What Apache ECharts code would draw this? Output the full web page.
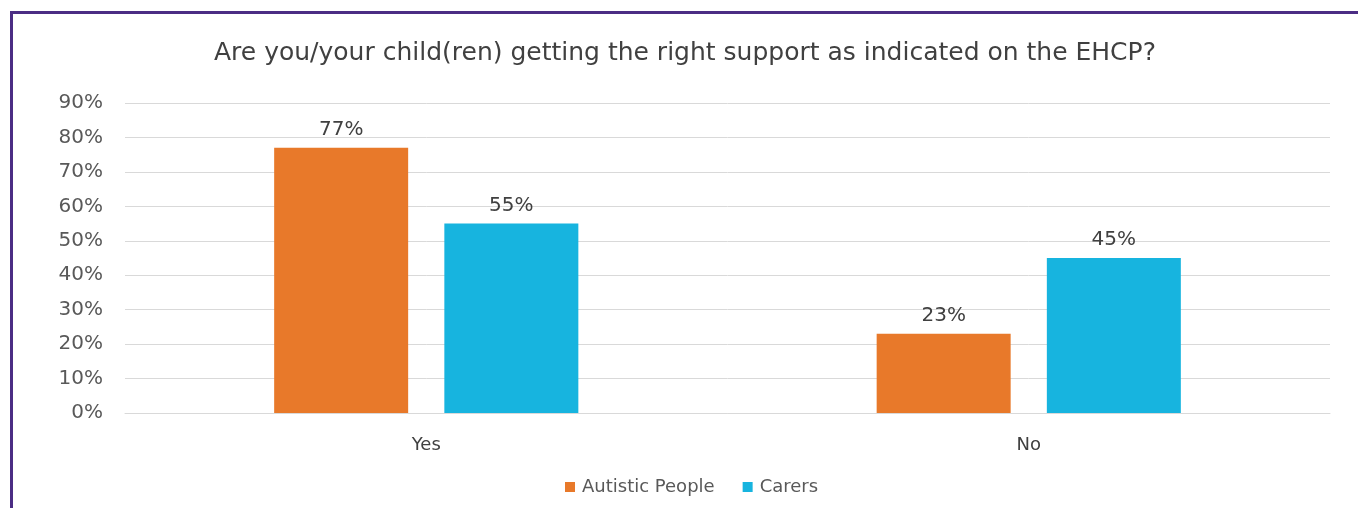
<!DOCTYPE html>
<html>
<head>
<meta charset="utf-8">
<script src="https://cdn.jsdelivr.net/npm/echarts@6/dist/echarts.min.js"></script>
<style>
html,body{margin:0;padding:0;background:#fff;}
#frame{position:absolute;left:10px;top:11px;width:1348px;height:497px;border-top:3px solid #4b2d84;border-left:3px solid #4b2d84;box-sizing:border-box;}
#chart{position:absolute;left:0;top:0;width:1358px;height:508px;}
</style>
</head>
<body>
<div id="frame"></div>
<div id="chart"></div>
<script>
var titleText = 'Are you/your child(ren) getting the right support as indicated on the EHCP?';
var categories = ['Yes', 'No'];
var seriesNames = ['Autistic People', 'Carers'];
var autisticPeople = [77, 23];
var carers = [55, 45];
var yTicks = [0, 10, 20, 30, 40, 50, 60, 70, 80, 90];

var font = '"DejaVu Sans", sans-serif';
var chart = echarts.init(document.getElementById('chart'), null, {renderer: 'canvas'});
chart.setOption({
  backgroundColor: 'transparent',
  animation: false,
  title: {
    text: titleText,
    left: 209,
    top: 36,
    textStyle: {fontFamily: font, fontSize: 25, fontWeight: 'normal', color: '#404040'}
  },
  legend: {
    data: seriesNames,
    bottom: 7,
    left: 560,
    itemWidth: 10,
    itemHeight: 10,
    itemGap: 28,
    icon: 'rect',
    textStyle: {fontFamily: font, fontSize: 18, color: '#595959', padding: [0, 0, 0, 2]}
  },
  grid: {left: 125, right: 28, top: 103, bottom: 95},
  xAxis: {
    type: 'category',
    data: categories,
    axisLine: {show: true, lineStyle: {color: '#d9d9d9'}},
    axisTick: {show: false},
    axisLabel: {fontFamily: font, fontSize: 18, color: '#404040', margin: 23}
  },
  yAxis: {
    type: 'value',
    min: yTicks[0],
    max: yTicks[yTicks.length - 1],
    interval: 10,
    axisLine: {show: false},
    axisTick: {show: false},
    splitLine: {lineStyle: {color: '#d9d9d9', width: 1}},
    axisLabel: {fontFamily: font, fontSize: 20, color: '#595959', margin: 22, formatter: '{value}%'}
  },
  series: [
    {
      name: seriesNames[0],
      type: 'bar',
      data: autisticPeople,
      barWidth: 134,
      barGap: '27%',
      itemStyle: {color: '#e8792a'},
      label: {show: true, position: 'top', distance: 8, formatter: '{c}%', fontFamily: font, fontSize: 20, color: '#404040'}
    },
    {
      name: seriesNames[1],
      type: 'bar',
      data: carers,
      barWidth: 134,
      barGap: '27%',
      itemStyle: {color: '#17b4df'},
      label: {show: true, position: 'top', distance: 8, formatter: '{c}%', fontFamily: font, fontSize: 20, color: '#404040'}
    }
  ]
});
</script>
</body>
</html>
